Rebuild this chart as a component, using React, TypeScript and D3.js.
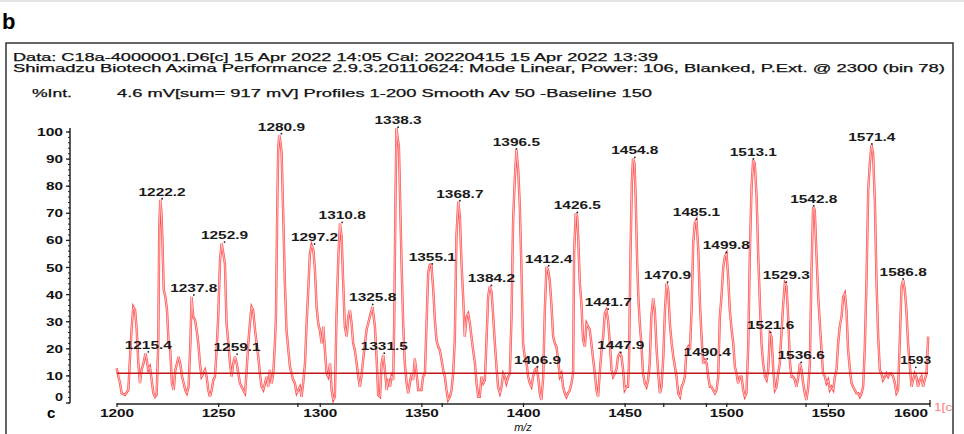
import React from "react";
import * as d3 from "d3";

// ---- data ----
const headerLines = [
  "Data: C18a-4000001.D6[c] 15 Apr 2022 14:05 Cal: 20220415 15 Apr 2022 13:39",
  "Shimadzu Biotech Axima Performance 2.9.3.20110624: Mode Linear, Power: 106, Blanked, P.Ext. @ 2300 (bin 78)",
];
const infoLabel = "%Int.";
const infoText = "4.6 mV[sum= 917 mV]  Profiles 1-200 Smooth Av 50 -Baseline 150";
const xTicks = [1200, 1250, 1300, 1350, 1400, 1450, 1500, 1550, 1600];
const xMinorTicks = [1289, 1360, 1469, 1490, 1539];
const yTicks = [0, 10, 20, 30, 40, 50, 60, 70, 80, 90, 100];
const baselineLevel = 11;
const baselineRange = [1200, 1599];

const spectrum: [number, number][] = [
  [1199.8,12.8],[1200.7,9.7],[1201.5,7.3],[1202.3,3.6],[1203.9,3.0],[1205.6,4.8],[1206.4,17],[1207.2,27.6],[1208.0,35.5],[1208.9,34.3],[1209.7,27],[1210.5,14.6],[1211.3,7.3],[1212.1,12.2],[1213.0,14.6],[1214.0,18.3],[1214.6,15.9],[1215.4,12.2],[1216.2,13.4],[1217.9,3.6],[1218.7,2.3],[1219.5,3.0],[1220.3,22],[1220.8,65],[1221.3,75],[1221.8,71],[1222.3,61],[1223.0,41.7],[1223.8,39.2],[1224.6,34.3],[1225.4,22],[1226.2,19.6],[1227.0,7.3],[1227.9,4.8],[1228.7,12.2],[1229.5,14.6],[1230.3,17.1],[1231.1,14.6],[1232.0,9.7],[1232.8,7.3],[1233.6,4.8],[1234.4,3.6],[1235.2,6.0],[1236.1,22],[1236.7,39.2],[1237.5,31.9],[1238.4,30.6],[1239.2,26.9],[1240.0,22],[1240.8,14.6],[1241.6,9.7],[1242.5,10.9],[1243.3,12.2],[1244.1,9.7],[1244.9,4.8],[1245.7,2.3],[1246.6,4.8],[1247.4,8.5],[1248.2,9.7],[1249.0,19.6],[1249.8,31.9],[1250.7,52.8],[1251.5,58.9],[1252.3,55.2],[1253.1,51.5],[1253.9,29.4],[1254.8,22],[1255.6,14.6],[1256.4,9.7],[1257.2,14.6],[1258.0,17.1],[1258.9,14.6],[1259.7,10.9],[1260.5,7.3],[1261.3,6.0],[1262.1,4.8],[1263.0,3.6],[1263.8,12.2],[1264.6,22],[1265.4,29.4],[1266.2,35.5],[1267.0,34.3],[1267.9,26.9],[1268.7,22],[1269.5,17.1],[1270.3,10.9],[1271.1,6.0],[1272.0,4.8],[1272.8,7.3],[1273.6,9.7],[1274.4,6.0],[1275.2,12.2],[1276.1,7.3],[1276.9,10.9],[1277.7,22],[1278.2,31.9],[1278.9,75],[1279.3,93.4],[1279.8,98.9],[1280.5,95.8],[1281.0,92.1],[1281.8,68.8],[1282.6,44.2],[1283.4,26.9],[1284.3,19.6],[1285.1,13.4],[1285.9,10.9],[1286.7,8.5],[1287.5,7.3],[1288.4,3.6],[1289.2,4.8],[1290.0,6.0],[1290.8,2.3],[1291.6,7.3],[1292.5,14.6],[1293.3,29.4],[1294.1,41.7],[1294.9,55.2],[1295.7,58.3],[1296.6,56.5],[1297.4,49.1],[1298.2,35.5],[1299.0,29.4],[1299.8,26.9],[1300.7,22],[1301.5,28.2],[1302.3,19.6],[1303.1,10.9],[1303.9,9.7],[1304.8,14.6],[1305.6,4.8],[1306.4,1.1],[1307.2,2.3],[1308.0,31.9],[1308.9,54],[1309.7,66.3],[1310.5,61.4],[1311.3,44.2],[1312.1,28.2],[1313.0,24.5],[1313.8,31.9],[1314.6,34.3],[1315.4,29.4],[1316.2,22],[1317.0,19.6],[1317.9,14.6],[1318.7,9.7],[1319.5,6.0],
  [1320.3,10],[1321.1,15.9],[1322.0,22],[1322.8,27],[1324.4,31.9],[1325.7,35.5],[1326.9,28.2],[1327.7,17],[1328.5,3],[1329.4,2.3],[1330.2,14.6],[1331.0,17.7],[1331.8,12.2],[1332.7,4.8],[1333.5,9],[1334.3,6],[1335.1,10],[1335.9,8.5],[1336.4,30],[1337.0,75],[1337.5,101.4],[1338.0,98.3],[1338.7,94.6],[1339.3,75],[1340.0,51.5],[1340.8,29.4],[1341.6,14.6],[1342.5,7.3],[1343.3,3.6],[1344.1,7.3],[1344.9,10.9],[1345.7,8.5],[1346.5,16.5],[1347.4,10.9],[1348.2,4.8],[1349.0,4.8],[1349.8,4.8],[1350.6,9.7],[1351.5,10.9],[1352.3,29.4],[1353.1,48],[1353.9,51],[1354.7,51],[1355.6,41.7],[1356.4,30.6],[1357.2,23.2],[1358.0,20.8],[1358.8,19.6],[1359.7,15.9],[1360.5,12.2],[1361.3,9.7],[1362.1,4.8],[1362.9,1.1],[1363.8,2.3],[1364.6,4.8],[1365.4,10.9],[1366.2,23.2],[1367.0,61.4],[1367.9,74.3],[1368.7,68.8],[1369.5,51.5],[1370.3,39.2],[1371.1,24.5],[1372.0,31.9],[1372.8,33],[1373.6,29.4],[1374.4,24.5],[1375.2,19.6],[1376.1,14.6],[1376.9,7.3],[1377.7,2.3],[1378.5,2.3],[1379.3,9.7],[1380.2,7.3],[1381.0,8.5],[1381.8,23.2],[1382.6,39.2],[1383.4,43],[1384.3,41],[1385.1,31.9],[1385.9,22],[1386.7,13.4],[1387.5,6],[1388.4,3.6],[1389.2,6],[1390.0,10.9],[1390.8,9.7],[1391.6,7.3],[1392.5,9.7],[1393.3,10.9],[1394.1,31.9],[1394.9,67.5],[1395.7,82.3],[1396.5,93.4],[1397.4,86],[1398.2,72.4],[1399.0,49],[1399.8,22],[1400.6,17.1],[1401.5,14.6],[1402.3,9.7],[1403.1,7.3],[1403.9,6],[1404.7,9.7],[1405.6,12.2],[1406.4,12.8],[1407.2,9.7],[1408.0,3.6],[1408.8,1.1],[1409.7,9.7],[1410.5,34.3],[1411.3,50.3],[1412.1,49],[1412.9,45.4],[1413.8,35.5],[1414.6,24.5],[1415.4,22],[1416.2,20.8],[1417.0,15.9],[1417.9,9.7],[1418.7,10.9],[1419.5,6],[1420.3,3.6],[1421.1,2.3],[1421.9,3.6],[1422.8,4.8],[1423.6,7.3],[1424.4,10.9],[1424.9,55.2],[1425.7,70],[1426.4,68.8],[1426.9,61.4],[1427.7,44.2],[1428.5,36.8],[1429.3,23.2],[1430.2,20.8],[1431.0,29.4],[1431.8,28.2],[1432.6,27],[1433.4,22],[1434.3,15.9],[1435.1,10.9],[1435.9,4.8],[1436.7,2.3],[1437.5,10.9],[1438.4,19.6],[1439.2,24.5],[1440.0,33],[1440.8,34.3],[1441.6,30.6],[1442.5,22],[1443.3,12.2],[1444.1,9.7],[1444.9,10.9],[1445.7,12.2],[1446.5,17.1],[1447.4,18.3],[1448.2,17.1],[1449.0,12.2],[1449.8,4.8],[1450.6,6],[1451.4,6],[1451.9,14.6],[1452.6,52.8],[1453.3,81],[1453.9,90.3],[1454.6,88.4],[1455.2,76],[1455.9,52.8],[1456.5,39.2],[1457.2,29.4],[1458.0,22],[1458.8,10.9],[1459.7,7.3],[1460.5,6],[1461.3,8.5],[1462.1,14.6],[1462.9,31.9],[1463.8,38.6],[1464.6,34.3],[1465.5,19.6],[1466.3,10.9],[1467.1,3.6],[1467.9,6],[1468.8,17.1],[1469.6,34.3],[1470.4,44.2],[1471.2,41.7],[1472.0,29.4],[1472.9,22],[1473.7,17.1],[1474.5,13.4],[1475.3,9.7],[1476.1,3.6],[1477.0,2.3],[1477.8,6],[1478.6,7.3],[1479.4,9.7],[1480.2,19.6],[1481.1,20.8],[1481.9,19.6],[1482.7,34.3],[1483.5,59],[1484.3,66.3],[1485.1,67.5],[1486.0,56.5],[1486.8,36.8],[1487.6,24.5],[1488.4,14.6],[1489.2,15.9],[1490.1,14.6],[1490.9,9.7],[1491.7,6],[1492.5,6],[1493.3,4.8],[1494.2,3.6],[1495.0,4.8],[1495.8,9.7],[1496.6,31.9],[1497.4,39.2],[1498.3,50.3],[1499.1,54],[1499.9,55.2],[1500.7,46.6],[1501.5,34.3],[1502.4,27],[1503.2,22],[1504.0,13.4],[1504.8,10.9],[1505.6,7.3],[1506.5,9.7],[1507.3,9.7],[1508.1,4.8],[1508.9,2.3],[1509.7,3.6],[1510.6,22],[1511.4,56.5],[1512.2,79.8],[1513.0,89.7],[1513.8,88.4],[1514.7,76],[1515.5,54],[1516.3,36.8],[1517.1,22],[1517.9,14.6],[1518.8,9.7],[1519.6,8.5],[1520.4,12.2],[1521.2,25.7],[1522.0,24.5],[1522.9,12.2],[1523.7,4.8],[1524.5,6],[1525.3,10.9],[1526.1,14.6],[1527.0,27],[1527.8,36.8],[1528.6,44.2],[1529.4,43],[1530.2,31.9],[1531.1,14.6],[1531.9,9.7],[1532.7,9.7],[1533.5,8.5],[1534.3,6],[1535.2,9.7],[1536.0,14.6],[1536.8,12.2],[1537.6,7.3],[1538.4,3.6],[1539.2,1.1],[1540.1,6],[1540.9,14.6],[1541.7,49],[1542.5,72.4],[1543.3,71.2],[1544.2,54],[1545.0,39.2],[1545.8,29.4],[1546.6,19.6],[1547.4,10.9],[1548.3,9.7],[1549.1,7.3],[1549.9,8.5],[1550.7,4.8],[1551.5,6],[1552.4,4.8],[1553.2,9.7],[1554.0,12.2],[1554.8,22],[1555.6,28.2],[1556.5,31.9],[1557.3,39.2],[1558.1,40.5],[1558.9,34.3],[1559.7,19.6],[1560.6,12.2],[1561.4,7.3],[1562.2,6],[1563.0,4.8],[1563.8,3.6],[1564.7,3.6],[1565.5,2.3],[1566.3,3.6],[1567.1,6],[1567.9,19.6],[1568.8,46.6],[1569.6,78.6],[1570.4,88.4],[1571.2,95.2],[1572.0,92.1],[1572.9,73.7],[1573.7,44.2],[1574.5,24.5],[1575.3,12.2],[1576.1,10.9],[1576.9,8.5],[1577.8,9.7],[1578.6,10.9],[1579.4,9.7],[1580.2,10.9],[1581.0,10.9],[1581.9,9.7],[1582.7,7.3],[1583.5,3.6],[1584.3,4.8],[1585.1,22],[1586.0,43],[1586.8,45.4],[1587.6,41.7],[1588.4,34.3],[1589.2,22],[1590.1,13.4],[1590.9,6],[1591.7,8.5],[1592.5,10.9],[1593.3,9.7],[1594.1,6],[1594.9,8.5],[1595.8,9.7],[1596.6,6],[1597.4,8.5],[1598.3,10.9],[1599.1,24.5],
];

const peakLabels = ["1215.4","1222.2","1237.8","1252.9","1259.1","1280.9","1297.2","1310.8","1325.8","1331.5","1338.3","1355.1","1368.7","1384.2","1396.5","1406.9","1412.4","1426.5","1441.7","1447.9","1454.8","1470.9","1485.1","1490.4","1499.8","1513.1","1521.6","1529.3","1536.6","1542.8","1571.4","1586.8","1593"];
const peakHeights = [18.5,75,39.5,59,17.7,99,58.3,66.3,36,18,101.4,51,74.3,43,93.4,13,50.3,70,34.3,18.3,90.3,44.2,67.5,15.9,55.2,89.7,25.7,44.2,14.6,72.4,95.2,45.4,12.8];

export default function App() {
  const W = 964, H = 434;
  const x = d3.scaleLinear().domain([1200, 1600]).range([117, 930]);
  const y = d3.scaleLinear().domain([0, 100]).range([403, 132]);
  const line = d3.line<[number, number]>().x(d => x(d[0])).y(d => y(d[1]));
  const path = line(spectrum) || "";
  const font = "'Liberation Sans', Arial, sans-serif";
  const minorY = d3.range(0, 101, 2);
  const axisX = 70;
  const lastTick = xTicks[xTicks.length - 1];

  return (
    <svg width={W} height={H} style={{ position: "absolute", left: 0, top: 0, background: "#fff" }} fontFamily={font}>
      <defs>
        <clipPath id="box"><rect x={6} y={43} width={947} height={400} /></clipPath>
      </defs>
      <rect width={W} height={H} fill="#fff" />
      <line x1={0} x2={W} y1={1} y2={1} stroke="#dcdcdc" strokeWidth={1.5} />
      <text x={2} y={29} fontSize={22} fontWeight="bold" fill="#000">b</text>
      <rect x={6} y={43} width={947} height={420} fill="none" stroke="#333" strokeWidth={1.5} />

      {/* header */}
      <g fill="#111" stroke="#111" strokeWidth={0.25} fontSize={11}>
        <text x={13} y={61} textLength={645} lengthAdjust="spacingAndGlyphs">{headerLines[0]}</text>
        <text x={13} y={72} textLength={932} lengthAdjust="spacingAndGlyphs">{headerLines[1]}</text>
        <text x={32} y={97} textLength={40} lengthAdjust="spacingAndGlyphs">{infoLabel}</text>
        <text x={117} y={97} textLength={535} lengthAdjust="spacingAndGlyphs">{infoText}</text>
      </g>

      {/* spectrum */}
      <g clipPath="url(#box)">
        <path d={path} fill="none" stroke="#ff5050" strokeWidth={2.4} />
        <path d={path} fill="none" stroke="#ffd8d8" strokeWidth={0.8} />
        <line x1={x(baselineRange[0])} x2={x(baselineRange[1])} y1={y(baselineLevel)} y2={y(baselineLevel)} stroke="#c41414" strokeWidth={1.6} />
      </g>

      {/* peak labels */}
      {peakLabels.map((t, i) => {
        const px = x(+t), py = y(peakHeights[i]);
        return (
          <g key={t}>
            <circle cx={px} cy={py - 1} r={0.9} fill="#222" />
            <text x={px} y={py - 4} fontSize={10.5} fontWeight="bold" fill="#1a1a1a" textAnchor="middle"
              textLength={t.length * 8.2 - 2} lengthAdjust="spacingAndGlyphs">{t}</text>
          </g>
        );
      })}

      {/* y axis */}
      <line x1={axisX} x2={axisX} y1={y(101.5)} y2={y(0)} stroke="#222" strokeWidth={1.5} />
      {minorY.map(v => (
        <line key={"m" + v} x1={axisX - 2} x2={axisX} y1={y(v)} y2={y(v)} stroke="#222" strokeWidth={1} />
      ))}
      {yTicks.map(v => (
        <g key={"y" + v}>
          <line x1={axisX - 4} x2={axisX} y1={y(v)} y2={y(v)} stroke="#222" strokeWidth={1.3} />
          <text x={63} y={(v === 0 ? y(v) - 6 : y(v)) + 4} fontSize={11} fontWeight="bold" fill="#111" textAnchor="end"
            textLength={String(v).length * 9 - 1} lengthAdjust="spacingAndGlyphs">{v}</text>
        </g>
      ))}

      {/* x axis */}
      <line x1={x(1200)} x2={x(1600)} y1={404} y2={404} stroke="#222" strokeWidth={1.6} />
      {xTicks.map(v => (
        <g key={"x" + v}>
          <line x1={x(v)} x2={x(v)} y1={403} y2={407} stroke="#222" strokeWidth={1.3} />
          <text x={v === lastTick ? x(v) - 2 : x(v)} y={417} fontSize={11} fontWeight="bold" fill="#111"
            textAnchor={v === lastTick ? "end" : "middle"} textLength={34} lengthAdjust="spacingAndGlyphs">{v}</text>
        </g>
      ))}
      {xMinorTicks.map(v => (
        <line key={"xm" + v} x1={x(v)} x2={x(v)} y1={403} y2={407} stroke="#222" strokeWidth={1.3} />
      ))}
      <line x1={x(1600)} x2={x(1600)} y1={400} y2={404} stroke="#222" strokeWidth={1.3} />
      <text x={523} y={431} fontSize={11} fontStyle="italic" fill="#111" textAnchor="middle">m/z</text>
      <text x={47} y={418} fontSize={15} fontWeight="bold" fill="#000">c</text>
      <g clipPath="url(#box)">
        <text x={934} y={411} fontSize={10} fill="#ff8080" textLength={22} lengthAdjust="spacingAndGlyphs">1[c]</text>
      </g>
    </svg>
  );
}
